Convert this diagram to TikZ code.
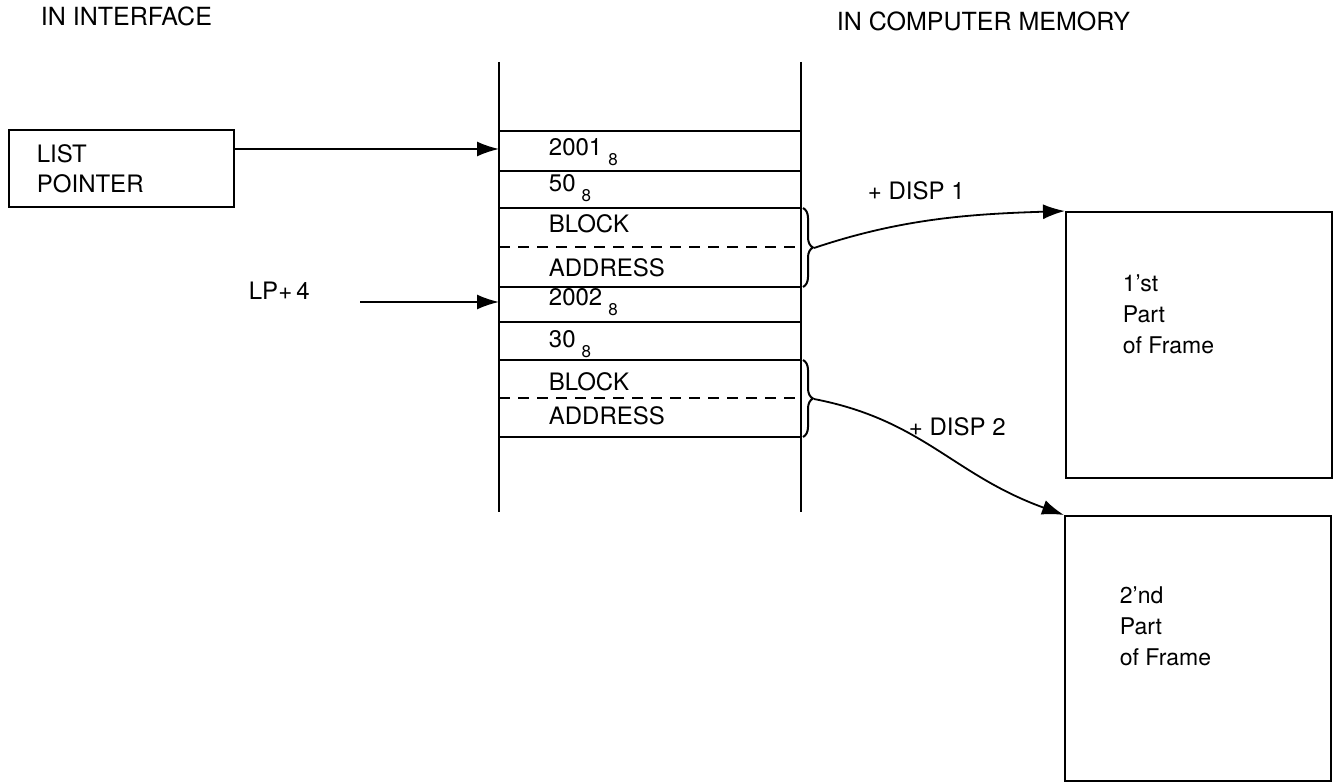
\documentclass[tikz,border=0pt]{standalone}
\usepackage{fontspec}
\setmainfont{TeX Gyre Heros}
\usetikzlibrary{arrows.meta,decorations.pathreplacing}
\newcommand{\oct}[1]{#1\hspace{6pt}\raisebox{-10pt}{\fontsize{17}{17}\selectfont 8}}
\begin{document}
\begin{tikzpicture}[x=1pt,y=-1pt,line width=1.8pt,
    txt/.style={anchor=base west,inner sep=0pt,font=\fontsize{24}{31}\selectfont},
    head/.style={txt,font=\fontsize{25}{28}\selectfont},
    frame/.style={draw,anchor=north west,minimum width=266pt,inner sep=0pt},
    ptr/.style={-{Latex[length=22pt,width=15pt]}},
    half/.style={dash pattern=on 11pt off 8pt,line width=1.4pt},
    grp/.style={decorate,decoration={brace,amplitude=10pt},line width=2pt}]
        \useasboundingbox (0,0) rectangle (1333,783);

        \node[head] (T1) at (40,26) {IN INTERFACE};
        \node[head] (T2) at (836,31) {IN COMPUTER MEMORY};

        \node[draw, anchor=north west, text width=169pt, inner xsep=28pt, minimum height=77pt,
            align=left, font=\fontsize{24}{30}\selectfont] (LP) at (8,129) {LIST\\POINTER};
        \node[txt] (L4) at (248,300) {LP+\,4};
        \coordinate (L4s) at (360,302);

        \draw (499,62) -- (499,512) (801,62) -- (801,512);
        \foreach \y in {131,171,208,287,322,360,437}
            \draw (499,\y) -- (801,\y);
        \draw[half] (499,247) -- (801,247) (499,398) -- (801,398);

        \node[txt] (W1) at (548,156) {\oct{2001}};
        \node[txt] (W2) at (548,192) {\oct{50}};
        \node[txt] (W3) at (548,233) {BLOCK};
        \node[txt] (W4) at (548,277) {ADDRESS};
        \node[txt] (W5) at (548,306) {\oct{2002}};
        \node[txt] (W6) at (548,348) {\oct{30}};
        \node[txt] (W7) at (548,391) {BLOCK};
        \node[txt] (W8) at (548,424) {ADDRESS};

        \coordinate (E1) at (499,149);
        \coordinate (E2) at (499,302);
        \draw[ptr] (LP.east |- E1) -- (E1);
        \draw[ptr] (L4s) -- (E2);

        \draw[grp] (803,208) -- (803,287);
        \draw[grp] (803,360) -- (803,437);
        \coordinate (B1) at (814,248);
        \coordinate (B2) at (814,399);

        \node[frame, minimum height=266pt] (F1) at (1065,211) {};
        \node[frame, minimum height=265pt] (F2) at (1064,515) {};
        \node[txt, anchor=north west, align=left, font=\fontsize{23}{31}\selectfont] (F1t) at (1122,274) {1'st\\Part\\of Frame};
        \node[txt, anchor=north west, align=left, font=\fontsize{23}{31}\selectfont] (F2t) at (1119,586) {2'nd\\Part\\of Frame};

        \draw[ptr] (B1) .. controls (903,218) and (973,214) .. (F1.north west);
        \draw[ptr] (B2) .. controls (923,420) and (953,475) .. (F2.north west);
        \node[txt] (D1) at (867,200) {+ DISP 1};
        \node[txt] (D2) at (908,435) {+ DISP 2};
    \end{tikzpicture}
\end{document}
